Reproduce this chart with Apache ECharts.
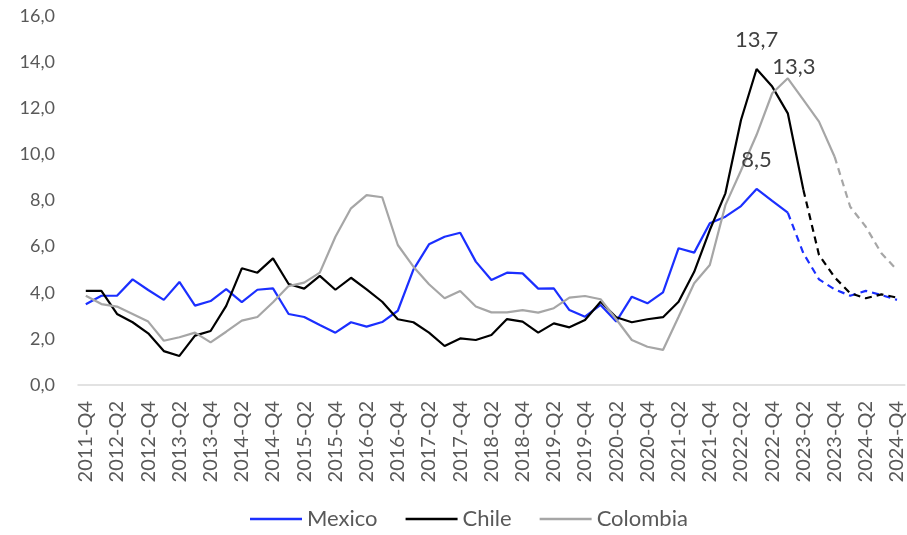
<!DOCTYPE html>
<html>
<head>
<meta charset="utf-8">
<script src="https://cdn.jsdelivr.net/npm/echarts@6/dist/echarts.min.js"></script>
<style>
html,body{margin:0;padding:0;background:#fff;}
#chart{width:907px;height:535px;}
</style>
</head>
<body>
<div id="chart"></div>
<script>
const categories = [
 "2011-Q4","2012-Q1","2012-Q2","2012-Q3","2012-Q4","2013-Q1","2013-Q2","2013-Q3","2013-Q4",
 "2014-Q1","2014-Q2","2014-Q3","2014-Q4","2015-Q1","2015-Q2","2015-Q3","2015-Q4",
 "2016-Q1","2016-Q2","2016-Q3","2016-Q4","2017-Q1","2017-Q2","2017-Q3","2017-Q4",
 "2018-Q1","2018-Q2","2018-Q3","2018-Q4","2019-Q1","2019-Q2","2019-Q3","2019-Q4",
 "2020-Q1","2020-Q2","2020-Q3","2020-Q4","2021-Q1","2021-Q2","2021-Q3","2021-Q4",
 "2022-Q1","2022-Q2","2022-Q3","2022-Q4","2023-Q1","2023-Q2","2023-Q3","2023-Q4",
 "2024-Q1","2024-Q2","2024-Q3","2024-Q4"
];
const mexico = [3.50,3.87,3.87,4.58,4.12,3.69,4.47,3.44,3.64,4.16,3.59,4.13,4.19,3.08,2.95,2.60,2.27,
 2.72,2.53,2.73,3.22,5.00,6.10,6.43,6.60,5.35,4.55,4.87,4.84,4.18,4.19,3.25,2.96,3.47,2.75,3.83,3.54,
 4.02,5.93,5.74,7.01,7.30,7.76,8.50,7.98,7.47,5.71,4.58,4.15,3.87,4.08,3.90,3.69];
const chile = [4.08,4.08,3.08,2.72,2.24,1.47,1.26,2.14,2.34,3.43,5.06,4.87,5.49,4.38,4.18,4.73,4.13,
 4.65,4.15,3.61,2.85,2.72,2.27,1.69,2.02,1.95,2.17,2.86,2.75,2.27,2.67,2.50,2.82,3.61,2.94,2.72,2.85,
 2.94,3.61,4.91,6.72,8.31,11.49,13.70,12.94,11.78,8.46,5.64,4.67,3.98,3.76,3.93,3.79];
const colombia = [3.87,3.51,3.40,3.08,2.75,1.92,2.07,2.27,1.85,2.31,2.79,2.95,3.59,4.29,4.44,4.87,6.43,
 7.66,8.23,8.14,6.07,5.13,4.37,3.76,4.08,3.40,3.15,3.15,3.25,3.14,3.33,3.79,3.86,3.72,2.85,1.95,1.66,
 1.52,2.96,4.41,5.20,7.80,9.30,10.85,12.65,13.30,12.36,11.42,9.90,7.73,6.86,5.71,4.99];
// index where projection (dashed) part starts
const projStart = { Mexico: 45, Chile: 46, Colombia: 48 };
const peakLabels = { Mexico: 43, Chile: 43, Colombia: 45 };

const FONT = 'Lato';
const fmt = v => v.toFixed(1).replace('.', ',');

function solidPart(arr, k) { return arr.map((v, i) => i <= k ? v : null); }
function dashPart(arr, k) { return arr.map((v, i) => i >= k ? v : null); }

function withLabel(arr, idx, labelCfg) {
  return arr.map((v, i) => {
    if (i === idx && v != null) {
      return { value: v, label: Object.assign({ show: true, formatter: fmt(v), color: '#404040',
        fontFamily: FONT, fontSize: 22 }, labelCfg) };
    }
    return v;
  });
}

const defs = [
  { name: 'Mexico', data: mexico, color: '#1B2FFF', label: { position: 'top', distance: 18 } },
  { name: 'Chile', data: chile, color: '#000000', label: { position: 'top', distance: 18 } },
  { name: 'Colombia', data: colombia, color: '#A6A6A6', label: { position: 'top', distance: 0, offset: [6, 0] } }
];

const series = [];
defs.forEach(d => {
  const k = projStart[d.name];
  series.push({
    name: d.name, type: 'line', symbol: 'circle', symbolSize: 0, showSymbol: true, showAllSymbol: true, z: 3,
    data: withLabel(solidPart(d.data, k), peakLabels[d.name], d.label),
    lineStyle: { color: d.color, width: 2.2 }, itemStyle: { color: d.color },
    connectNulls: false, animation: false
  });
  series.push({
    name: d.name + ' proj', type: 'line', symbol: 'none', z: 3,
    data: dashPart(d.data, k),
    lineStyle: { color: d.color, width: 2.2, type: [7, 5] }, itemStyle: { color: d.color },
    connectNulls: false, animation: false
  });
});

const chart = echarts.init(document.getElementById('chart'), null, { renderer: 'canvas' });
chart.setOption({
  backgroundColor: '#ffffff',
  animation: false,
  grid: { left: 78, right: 2, top: 16, bottom: 150, containLabel: false },
  legend: {
    data: ['Mexico', 'Chile', 'Colombia'],
    bottom: 0, left: 245, icon: 'rect',
    itemWidth: 52, itemHeight: 2.5, itemGap: 28,
    textStyle: { fontFamily: FONT, fontSize: 22, color: '#595959' }
  },
  xAxis: {
    type: 'category', data: categories, boundaryGap: true,
    axisLine: { show: true, lineStyle: { color: '#D9D9D9', width: 1.5 } },
    axisTick: { show: false },
    axisLabel: { interval: 1, rotate: 90, margin: 16, fontFamily: FONT, fontSize: 20, color: '#595959' },
    splitLine: { show: false }
  },
  yAxis: {
    type: 'value', min: 0, max: 16, interval: 2,
    axisLine: { show: false }, axisTick: { show: false },
    splitLine: { show: false },
    axisLabel: { margin: 23, fontFamily: FONT, fontSize: 18, color: '#595959', formatter: v => fmt(v) }
  },
  series: series
});
</script>
</body>
</html>
